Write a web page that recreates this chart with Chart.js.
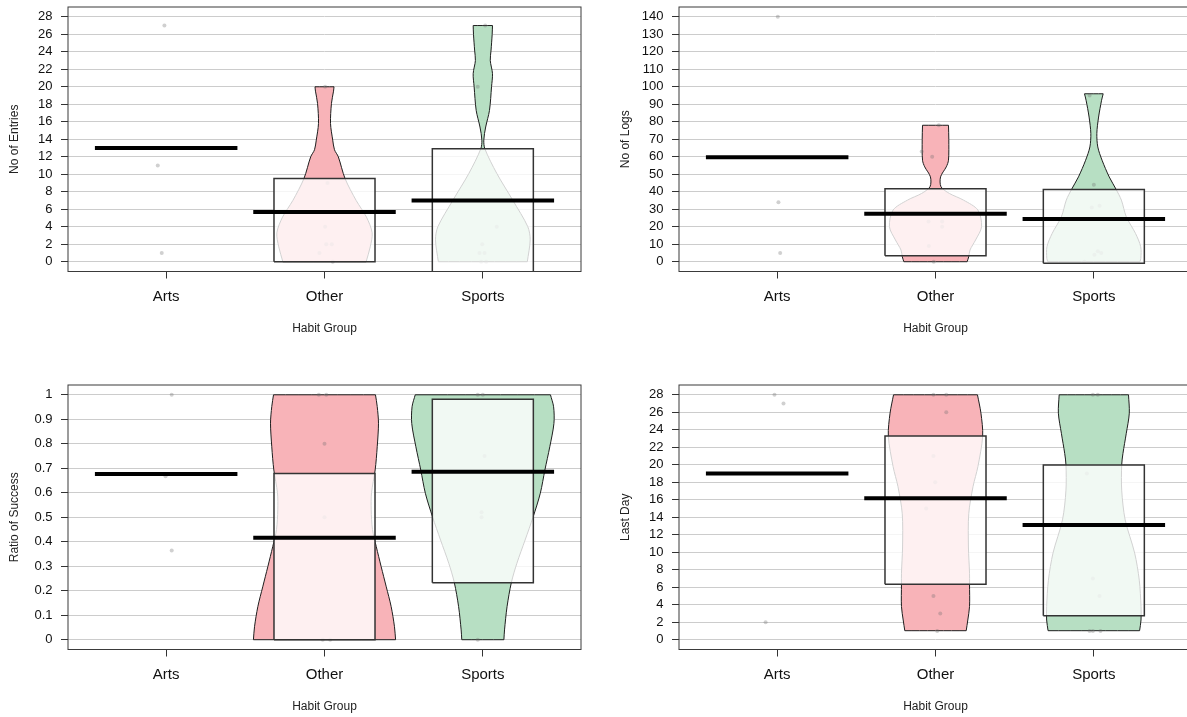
<!DOCTYPE html>
<html>
<head>
<meta charset="utf-8">
<script src="https://cdn.jsdelivr.net/npm/chart.js@4/dist/chart.umd.min.js"></script>
<style>
  html, body { margin: 0; padding: 0; background: #fff; overflow: hidden; width: 1187px; height: 717px; }
  canvas { position: absolute; display: block; }
</style>
</head>
<body>
<canvas id="cEntries" width="593" height="345" style="left:0;top:0"></canvas>
<canvas id="cLogs" width="593" height="345" style="left:611px;top:0"></canvas>
<canvas id="cRatio" width="593" height="345" style="left:0;top:378px"></canvas>
<canvas id="cLastDay" width="593" height="345" style="left:611px;top:378px"></canvas>
<script>
// Habit groups along the x axis (positions 1, 2, 3)
const groups = ['Arts', 'Other', 'Sports'];

// ---------- No of Entries ----------
const entriesTicks = [0, 2, 4, 6, 8, 10, 12, 14, 16, 18, 20, 22, 24, 26, 28];
const entriesMeans = [13, 5.68, 7.0];
const entriesBandLow = [null, 0, -2];
const entriesBandHigh = [null, 9.5, 12.9];
const entriesArts = [27, 11, 1];
const entriesArtsJitter = [-0.011, -0.053, -0.028];
const entriesOther = [20, 9, 4, 2, 2, 1, 0];
const entriesOtherJitter = [0.004, 0.019, 0.004, 0.011, 0.046, -0.032, 0.052];
const entriesSports = [27, 20, 4, 2, 1, 1, 0, 0];
const entriesSportsJitter = [0.015, -0.032, 0.088, -0.004, -0.021, 0.011, -0.010, 0.021];
const entriesOtherLevels = [0, 1.7, 3.3, 5.1, 7, 9.5, 12, 12.8, 13.9, 15.8, 18.1, 19.5, 20];
const entriesOtherDensity = [0.263, 0.289, 0.301, 0.265, 0.200, 0.130, 0.087, 0.063, 0.052, 0.038, 0.044, 0.057, 0.060];
const entriesSportsLevels = [0, 2.5, 4, 7, 10.1, 12.9, 13.9, 15.4, 17.3, 20, 21.5, 23, 24.2, 26, 27];
const entriesSportsDensity = [0.281, 0.299, 0.284, 0.190, 0.088, 0.013, 0.006, 0.018, 0.042, 0.055, 0.061, 0.047, 0.052, 0.059, 0.061];

// ---------- No of Logs ----------
const logsTicks = [0, 10, 20, 30, 40, 50, 60, 70, 80, 90, 100, 110, 120, 130, 140];
const logsMeans = [59.7, 27.4, 24.4];
const logsBandLow = [null, 3.4, -0.9];
const logsBandHigh = [null, 41.7, 41.3];
const logsArts = [140, 34, 5];
const logsArtsJitter = [0.004, 0.008, 0.019];
const logsOther = [78, 63, 60, 23, 23, 20, 9, 0];
const logsOtherJitter = [0.021, -0.087, -0.021, -0.044, 0.042, 0.042, -0.042, -0.011];
const logsSports = [95, 44, 32, 31, 6, 5, 4, 0];
const logsSportsJitter = [-0.027, 0, 0.036, -0.013, 0.025, 0.047, 0.004, -0.059];
const logsOtherLevels = [0, 2.9, 6.7, 12.4, 20, 29.5, 35.2, 39, 42.8, 48.5, 54.2, 58, 70, 78];
const logsOtherDensity = [0.200, 0.210, 0.218, 0.253, 0.291, 0.268, 0.177, 0.088, 0.035, 0.032, 0.068, 0.082, 0.084, 0.082];
const logsSportsLevels = [0, 1.9, 8.6, 16.2, 25.7, 35.2, 41.3, 48.5, 58, 65.6, 73.3, 82.7, 92.3, 96];
const logsSportsDensity = [0.291, 0.297, 0.296, 0.263, 0.205, 0.174, 0.141, 0.097, 0.052, 0.025, 0.019, 0.030, 0.049, 0.059];

// ---------- Ratio of Success ----------
const ratioTicks = ['0', '0.1', '0.2', '0.3', '0.4', '0.5', '0.6', '0.7', '0.8', '0.9', '1'];
const ratioMeans = [0.677, 0.416, 0.686];
const ratioBandLow = [null, 0, 0.233];
const ratioBandHigh = [null, 0.679, 0.982];
const ratioArts = [1, 0.667, 0.364];
const ratioArtsJitter = [0.035, -0.004, 0.035];
const ratioOther = [1, 1, 0.8, 0.5, 0, 0];
const ratioOtherJitter = [-0.036, 0.011, 0, 0, -0.011, 0.036];
const ratioSports = [1, 1, 0.75, 0.52, 0.5, 0];
const ratioSportsJitter = [-0.032, 0, 0.011, -0.008, -0.008, -0.032];
const ratioOtherLevels = [0, 0.053, 0.135, 0.216, 0.298, 0.38, 0.45, 0.53, 0.6, 0.693, 0.788, 0.884, 0.952, 1.0];
const ratioOtherDensity = [0.449, 0.442, 0.421, 0.390, 0.358, 0.327, 0.303, 0.295, 0.297, 0.320, 0.333, 0.341, 0.333, 0.322];
const ratioSportsLevels = [0, 0.04, 0.135, 0.233, 0.312, 0.407, 0.502, 0.598, 0.693, 0.788, 0.883, 0.951, 1.0];
const ratioSportsDensity = [0.133, 0.137, 0.153, 0.180, 0.215, 0.267, 0.318, 0.363, 0.392, 0.423, 0.449, 0.447, 0.427];

// ---------- Last Day ----------
const lastDayTicks = [0, 2, 4, 6, 8, 10, 12, 14, 16, 18, 20, 22, 24, 26, 28];
const lastDayMeans = [19, 16.16, 13.1];
const lastDayBandLow = [null, 6.33, 2.75];
const lastDayBandHigh = [null, 23.3, 19.97];
const lastDayArts = [28, 27, 2];
const lastDayArtsJitter = [-0.017, 0.040, -0.073];
const lastDayOther = [28, 28, 26, 21, 18, 15, 5, 3, 1];
const lastDayOtherJitter = [-0.013, 0.068, 0.068, -0.013, -0.002, -0.059, -0.013, 0.030, 0.011];
const lastDaySports = [28, 28, 19, 7, 5, 1, 1, 1];
const lastDaySportsJitter = [-0.006, 0.025, -0.044, -0.006, 0.036, -0.027, -0.006, 0.042];
const lastDayOtherLevels = [1.03, 2.25, 3.8, 6.33, 7.6, 10.6, 14.4, 17.5, 19.8, 23.3, 25.9, 28];
const lastDayOtherDensity = [0.194, 0.204, 0.215, 0.215, 0.215, 0.208, 0.210, 0.237, 0.268, 0.298, 0.287, 0.265];
const lastDaySportsLevels = [1.03, 2.25, 3.8, 6.8, 9.9, 13.7, 17.1, 20, 21.3, 23.6, 25.9, 28];
const lastDaySportsDensity = [0.289, 0.298, 0.298, 0.287, 0.258, 0.198, 0.176, 0.176, 0.184, 0.205, 0.224, 0.219];

// ---------- styling ----------
const FONT = '"Liberation Sans", Arial, sans-serif';
const beanFill = [null, '#f8b3b8', '#b7dfc3'];
const BAND_HALF = 0.319;
const MEAN_HALF = 0.45;

// closed outline of a bean: right side upward, left side downward
function beanOutline(center, levels, density) {
  const n = levels.length;
  const pts = [];
  for (let i = 0; i < n; i++) pts.push({ x: center + density[i], y: levels[i] });
  pts.push({ x: center + density[n - 1], y: levels[n - 1] });
  pts.push({ x: center - density[n - 1], y: levels[n - 1] });
  for (let i = n - 1; i >= 0; i--) pts.push({ x: center - density[i], y: levels[i] });
  pts.push({ x: center - density[0], y: levels[0] });
  pts.push({ x: center + density[0], y: levels[0] });
  return pts;
}

function bandRect(center, lo, hi) {
  return [
    { x: center - BAND_HALF, y: lo }, { x: center + BAND_HALF, y: lo },
    { x: center + BAND_HALF, y: hi }, { x: center - BAND_HALF, y: hi },
    { x: center - BAND_HALF, y: lo }
  ];
}

const frame = {
  id: 'frame',
  afterDraw(chart) {
    const { ctx, chartArea: a } = chart;
    ctx.save();
    ctx.strokeStyle = '#3a3a3a';
    ctx.lineWidth = 1;
    ctx.strokeRect(a.left, a.top, a.right - a.left, a.bottom - a.top);
    ctx.restore();
  }
};

function drawPanel(canvasId, p) {
  const datasets = [];
  groups.forEach((g, gi) => {
    const center = gi + 1;
    if (p.levels[gi]) {
      datasets.push({
        data: beanOutline(center, p.levels[gi], p.density[gi]),
        showLine: true, fill: 'shape', tension: 0.3,
        backgroundColor: beanFill[gi], borderColor: '#1e1e1e', borderWidth: 1,
        pointRadius: 0, order: 4
      });
    }
    datasets.push({
      data: p.points[gi].map((v, i) => ({ x: center + p.jitter[gi][i], y: v })),
      pointRadius: 2, pointBorderWidth: 0,
      pointBackgroundColor: 'rgba(110,110,110,0.32)', order: 3
    });
    if (p.low[gi] !== null) {
      datasets.push({
        data: bandRect(center, p.low[gi], p.high[gi]),
        showLine: true, fill: 'shape', tension: 0,
        backgroundColor: 'rgba(255,255,255,0.8)', borderColor: '#333', borderWidth: 1.5,
        pointRadius: 0, order: 2
      });
    }
    datasets.push({
      data: [{ x: center - MEAN_HALF, y: p.means[gi] }, { x: center + MEAN_HALF, y: p.means[gi] }],
      showLine: true, borderColor: '#000', borderWidth: 4, borderCapStyle: 'butt',
      pointRadius: 0, order: 1
    });
  });

  new Chart(document.getElementById(canvasId), {
    type: 'scatter',
    data: { datasets },
    plugins: [frame],
    options: {
      responsive: false, animation: false, devicePixelRatio: 1,
      layout: { padding: { left: 0, top: 0, right: 12, bottom: 0 } },
      plugins: { legend: { display: false }, tooltip: { enabled: false } },
      scales: {
        x: {
          type: 'linear', min: 0.38, max: 3.62,
          afterBuildTicks: s => { s.ticks = groups.map((g, i) => ({ value: i + 1 })); },
          afterFit: s => { s.height = 73.5; },
          ticks: {
            autoSkip: false, maxRotation: 0, padding: 9, color: '#111',
            font: { family: FONT, size: 15 },
            callback: (v, i) => groups[i]
          },
          grid: { drawOnChartArea: false, drawTicks: true, tickLength: 7, tickColor: '#333', tickWidth: 1 },
          border: { display: false },
          title: { display: true, text: 'Habit Group', color: '#222', font: { family: FONT, size: 12 }, padding: { top: 0, bottom: 8.8 } }
        },
        y: {
          type: 'linear', min: p.min, max: p.max,
          afterBuildTicks: s => { s.ticks = p.tickValues.map(v => ({ value: v })); },
          afterFit: s => { s.width = 68; s.paddingTop = 7; s.paddingBottom = 0; },
          ticks: {
            autoSkip: false, padding: 8.5, color: '#111',
            font: { family: FONT, size: 13 },
            callback: (v, i) => p.tickLabels[i]
          },
          grid: { color: '#cccccc', lineWidth: 1, drawTicks: true, tickLength: 7, tickColor: '#333', tickWidth: 1 },
          border: { display: false },
          title: { display: true, text: p.title, color: '#222', font: { family: FONT, size: 12 }, padding: { top: 7.5, bottom: 0 } }
        }
      }
    }
  });
}

drawPanel('cEntries', {
  title: 'No of Entries', min: -1.12, max: 29.12,
  tickValues: entriesTicks, tickLabels: entriesTicks.map(String),
  means: entriesMeans, low: entriesBandLow, high: entriesBandHigh,
  points: [entriesArts, entriesOther, entriesSports],
  jitter: [entriesArtsJitter, entriesOtherJitter, entriesSportsJitter],
  levels: [null, entriesOtherLevels, entriesSportsLevels],
  density: [null, entriesOtherDensity, entriesSportsDensity]
});

drawPanel('cLogs', {
  title: 'No of Logs', min: -5.6, max: 145.6,
  tickValues: logsTicks, tickLabels: logsTicks.map(String),
  means: logsMeans, low: logsBandLow, high: logsBandHigh,
  points: [logsArts, logsOther, logsSports],
  jitter: [logsArtsJitter, logsOtherJitter, logsSportsJitter],
  levels: [null, logsOtherLevels, logsSportsLevels],
  density: [null, logsOtherDensity, logsSportsDensity]
});

drawPanel('cRatio', {
  title: 'Ratio of Success', min: -0.04, max: 1.04,
  tickValues: ratioTicks.map(Number), tickLabels: ratioTicks,
  means: ratioMeans, low: ratioBandLow, high: ratioBandHigh,
  points: [ratioArts, ratioOther, ratioSports],
  jitter: [ratioArtsJitter, ratioOtherJitter, ratioSportsJitter],
  levels: [null, ratioOtherLevels, ratioSportsLevels],
  density: [null, ratioOtherDensity, ratioSportsDensity]
});

drawPanel('cLastDay', {
  title: 'Last Day', min: -1.12, max: 29.12,
  tickValues: lastDayTicks, tickLabels: lastDayTicks.map(String),
  means: lastDayMeans, low: lastDayBandLow, high: lastDayBandHigh,
  points: [lastDayArts, lastDayOther, lastDaySports],
  jitter: [lastDayArtsJitter, lastDayOtherJitter, lastDaySportsJitter],
  levels: [null, lastDayOtherLevels, lastDaySportsLevels],
  density: [null, lastDayOtherDensity, lastDaySportsDensity]
});
</script>
</body>
</html>
